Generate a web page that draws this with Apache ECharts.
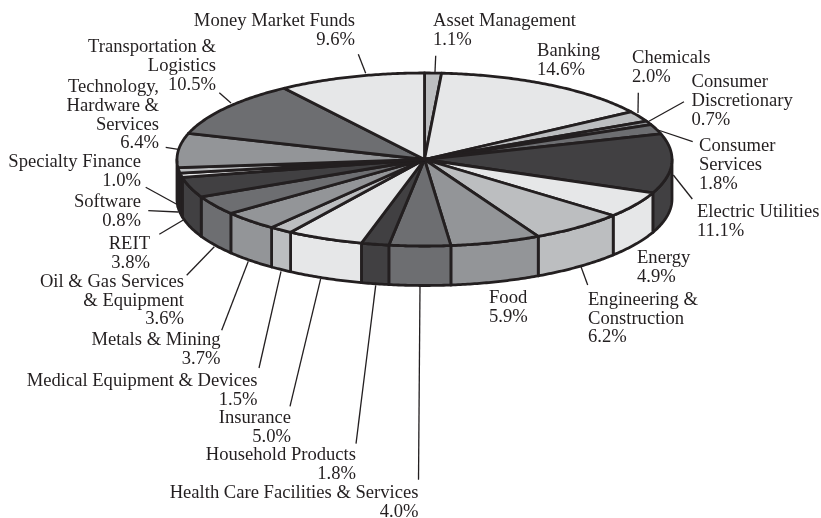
<!DOCTYPE html>
<html>
<head>
<meta charset="utf-8">
<style>html,body{margin:0;padding:0;background:#fff}#c{width:821px;height:518px}</style>
<script src="https://cdn.jsdelivr.net/npm/echarts@6/dist/echarts.min.js"></script>
</head>
<body>
<div id="c"></div>
<script>
const categories = ["Asset Management","Banking","Chemicals","Consumer\nDiscretionary","Consumer\nServices","Electric Utilities","Energy","Engineering &\nConstruction","Food","Health Care Facilities & Services","Household Products","Insurance","Medical Equipment & Devices","Metals & Mining","Oil & Gas Services\n& Equipment","REIT","Software","Specialty Finance","Technology,\nHardware &\nServices","Transportation &\nLogistics","Money Market Funds"];
const shares = [1.1,14.6,2.0,0.7,1.8,11.1,4.9,6.2,5.9,4.0,1.8,5.0,1.5,3.7,3.6,3.8,0.8,1.0,6.4,10.5,9.6];
const shadeIndex = [1,0,1,2,3,4,0,1,2,3,4,0,1,2,3,4,0,1,2,3,0];
const shades = ["#E6E7E8","#BCBEC0","#939598","#6D6E71","#414042"];

// Layout only: [text anchor x, first-line centre y, align, leader start, leader end]
const labelLayout = [
 [433,21,"left",[435.7,55.7],[435,72]],
 [537,51,"left",null,null],
 [632,58,"left",[638.3,92.7],[638,113]],
 [691.5,82.5,"left",[684,101.7],[648,121.7]],
 [699,146.5,"left",[692.7,141.7],[658,130]],
 [697,212.5,"left",[692.3,199],[673.3,175]],
 [637,258,"left",null,null],
 [588,300,"left",[587.7,285],[581,266.7]],
 [489,298,"left",null,null],
 [418.5,493,"right",[418.5,479.7],[420,286.3]],
 [356,455,"right",[356,443.7],[375.7,285.3]],
 [291,418,"right",[290,406.3],[320.7,278.7]],
 [257.5,381,"right",[259,368],[281,271.3]],
 [220.5,340.5,"right",[221.7,330.3],[248.3,261.3]],
 [184,282,"right",[186.7,275.3],[214.3,246.7]],
 [150,244,"right",[159.3,234.3],[183.3,220]],
 [141,202.5,"right",[148.3,210.7],[178.3,212]],
 [141,162.5,"right",[145.7,187.3],[176.7,204.3]],
 [159,87.5,"right",[165.7,147.3],[178.3,149.3]],
 [216,47.5,"right",[219.3,92.7],[231,103]],
 [355,21,"right",[358.3,54.3],[365.7,73.3]]
];
const WALL_DEPTH = 39.5, INK = "#231F20", LINE_W = 2.8;
const FONT = '18.6px "Liberation Serif", serif';

const total = shares.reduce((a,b)=>a+b,0);
let running = 0;
const sliceRows = shares.map((v,i)=>{const s=running; running+=v; return [s/total,(s+v)/total,i];});

function arc(api,a,b,dy){
  const pts=[], n=Math.max(2,Math.ceil((b-a)/0.01));
  for(let k=0;k<=n;k++){
    const t=a+(b-a)*k/n, p=api.coord([Math.sin(t),Math.cos(t)]);
    pts.push([p[0],p[1]+dy]);
  }
  return pts;
}
const TAU=Math.PI*2;
function renderWall(params,api){
  const a=Math.max(api.value(0)*TAU,Math.PI/2), b=Math.min(api.value(1)*TAU,Math.PI*1.5);
  if(b<=a) return {type:'group',children:[]};
  const pts=arc(api,a,b,0).concat(arc(api,a,b,WALL_DEPTH).reverse());
  return {type:'polygon',shape:{points:pts},style:{fill:shades[shadeIndex[api.value(2)]],stroke:INK,lineWidth:LINE_W,lineJoin:'round'}};
}
function renderTop(params,api){
  const a=api.value(0)*TAU,b=api.value(1)*TAU;
  const pts=[api.coord([0,0])].concat(arc(api,a,b,0));
  return {type:'polygon',shape:{points:pts},style:{fill:shades[shadeIndex[api.value(2)]],stroke:INK,lineWidth:LINE_W,lineJoin:'round'}};
}
function renderLabel(params,api){
  const i=api.value(2), l=labelLayout[i], kids=[];
  if(l[3]) kids.push({type:'line',shape:{x1:l[3][0],y1:l[3][1],x2:l[4][0],y2:l[4][1]},style:{stroke:INK,lineWidth:1.3}});
  kids.push({type:'text',style:{text:categories[i]+"\n"+shares[i].toFixed(1)+"%",x:l[0],y:l[1]-9.35,align:l[2],verticalAlign:'top',font:FONT,lineHeight:18.7,fill:INK}});
  return {type:'group',children:kids};
}
const chart=echarts.init(document.getElementById('c'),null,{renderer:'canvas'});
chart.setOption({
  animation:false,
  backgroundColor:'#fff',
  tooltip:{show:false},
  grid:{left:177,top:73,width:495,height:173,containLabel:false},
  xAxis:{type:'value',min:-1,max:1,show:false},
  yAxis:{type:'value',min:-1,max:1,show:false},
  series:[
    {type:'custom',name:'wall',coordinateSystem:'cartesian2d',clip:false,silent:true,z:1,data:sliceRows,renderItem:renderWall},
    {type:'custom',name:'top',coordinateSystem:'cartesian2d',clip:false,silent:true,z:2,data:sliceRows,renderItem:renderTop},
    {type:'custom',name:'labels',coordinateSystem:'cartesian2d',clip:false,silent:true,z:3,data:sliceRows,renderItem:renderLabel}
  ]
});
</script>
</body>
</html>
